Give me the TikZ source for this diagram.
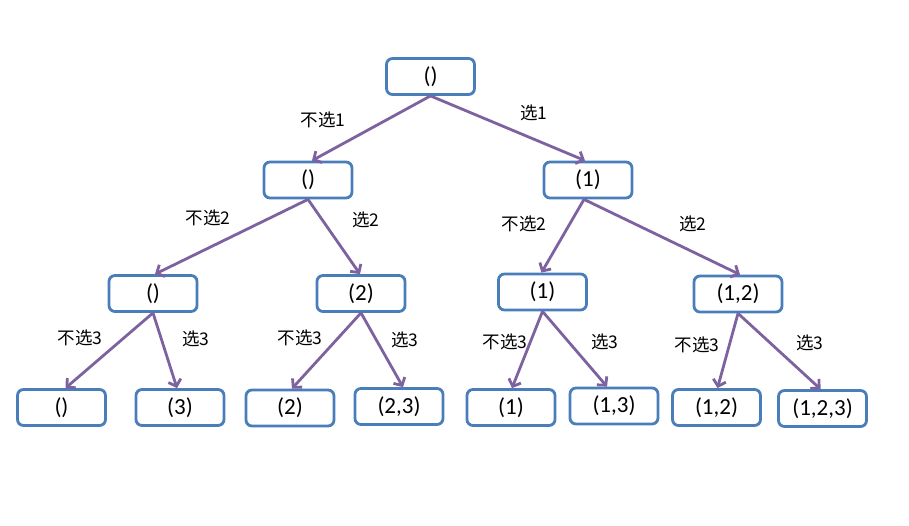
\documentclass[tikz,border=0pt]{standalone}
\usepackage{fontspec}
\setmainfont{Carlito}
\newfontfamily\cjk{Noto Sans CJK SC}
\usetikzlibrary{arrows.meta}
\definecolor{boxblue}{HTML}{4A7EBB}
\definecolor{arrpurple}{HTML}{7E62A0}
\tikzset{
  sbox/.style={draw=boxblue, line width=2.8pt, rounded corners=6pt, fill=white,
    minimum width=88pt, minimum height=36pt, inner sep=0pt, font=\fontsize{23}{25}\selectfont},
  conn/.style={draw=arrpurple, line width=2.8pt, -{Straight Barb[length=6pt,width=13pt,line width=2.8pt]}},
  lbl/.style={font=\cjk\fontsize{17.5}{19}\selectfont, inner sep=0pt, text=black}
}
\begin{document}
\begin{tikzpicture}[x=1pt,y=-1pt]
\useasboundingbox (0,0) rectangle (909,526);
% nodes
\node[sbox] (r) at (430.5,76.5) {()};
\node[sbox] (a) at (308,180) {()};
\node[sbox] (b) at (588,180) {(1)};
\node[sbox] (aa) at (153,293.5) {()};
\node[sbox] (ab) at (361,293.5) {(2)};
\node[sbox] (ba) at (542.5,292) {(1)};
\node[sbox] (bb) at (738,294) {(1,2)};
\node[sbox] (l1) at (61.5,407.5) {()};
\node[sbox] (l2) at (180,407.5) {(3)};
\node[sbox] (l3) at (290,408) {(2)};
\node[sbox] (l4) at (399,406.5) {(2,3)};
\node[sbox] (l5) at (511,407.5) {(1)};
\node[sbox] (l6) at (614,406) {(1,3)};
\node[sbox] (l7) at (716.5,407.5) {(1,2)};
\node[sbox] (l8) at (822.5,408.5) {(1,2,3)};
% connectors
\draw[conn] (r.south) -- ([xshift=4pt]a.north);
\draw[conn] (r.south) -- ([xshift=-3pt]b.north);
\draw[conn] (a.south) -- ([xshift=2pt]aa.north);
\draw[conn] (a.south) -- ([xshift=-1pt]ab.north);
\draw[conn] ([xshift=-4pt]b.south) -- ([xshift=-1pt]ba.north);
\draw[conn] ([xshift=-4pt]b.south) -- ([xshift=2pt]bb.north);
\draw[conn] (aa.south) -- ([xshift=4pt]l1.north);
\draw[conn] (aa.south) -- ([xshift=-3pt]l2.north);
\draw[conn] (ab.south) -- ([xshift=2pt]l3.north);
\draw[conn] (ab.south) -- ([xshift=4pt]l4.north);
\draw[conn] (ba.south) -- ([xshift=1pt]l5.north);
\draw[conn] (ba.south) -- ([xshift=-7pt]l6.north);
\draw[conn] (bb.south) -- ([xshift=1pt]l7.north);
\draw[conn] (bb.south) -- ([xshift=-2pt]l8.north);
% labels
\node[lbl] (t1) at (323,120) {不选1};
\node[lbl] (t2) at (534,113) {选1};
\node[lbl] (t3) at (208,218) {不选2};
\node[lbl] (t4) at (366,220) {选2};
\node[lbl] (t5) at (524,224) {不选2};
\node[lbl] (t6) at (693,224) {选2};
\node[lbl] (t7) at (80,338) {不选3};
\node[lbl] (t8) at (196,339) {选3};
\node[lbl] (t9) at (300,338) {不选3};
\node[lbl] (t10) at (405,340) {选3};
\node[lbl] (t11) at (505,342) {不选3};
\node[lbl] (t12) at (605,342) {选3};
\node[lbl] (t13) at (697,345) {不选3};
\node[lbl] (t14) at (810,343) {选3};
\end{tikzpicture}
\end{document}
